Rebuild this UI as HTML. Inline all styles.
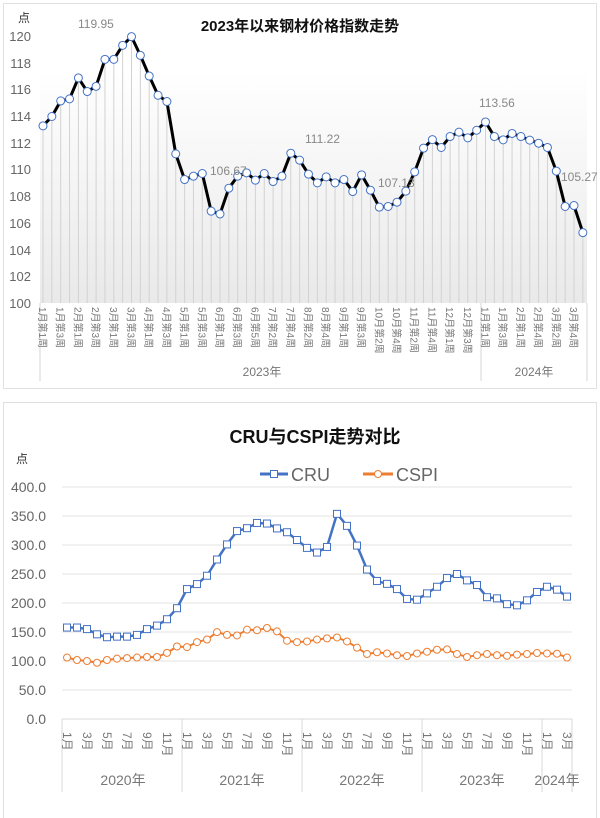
<!DOCTYPE html>
<html><head><meta charset="utf-8"><style>
html,body{margin:0;padding:0;background:#fff;}
svg{display:block;font-family:"Liberation Sans","Noto Sans CJK SC",sans-serif;}
</style></head><body>
<svg id="s" width="600" height="818" viewBox="0 0 600 818">
<defs>
<linearGradient id="g" x1="0" y1="0" x2="0" y2="1">
<stop offset="0" stop-color="#ffffff"/><stop offset="1" stop-color="#e9e9e9"/>
</linearGradient>
</defs>
<rect x="3.5" y="3.5" width="593" height="385" fill="#fff" stroke="#e0e0e0"/>
<rect x="40" y="70" width="547" height="233" fill="url(#g)"/>
<g id="top"></g>
<text x="18" y="22" font-size="12" fill="#333">点</text>
<text x="300" y="31" font-size="15" font-weight="bold" text-anchor="middle" fill="#111">2023年以来钢材价格指数走势</text>
<g font-size="13" fill="#666" text-anchor="end">
<text x="31" y="41">120</text><text x="31" y="68">118</text><text x="31" y="94">116</text><text x="31" y="121">114</text><text x="31" y="148">112</text><text x="31" y="174">110</text><text x="31" y="201">108</text><text x="31" y="228">106</text><text x="31" y="255">104</text><text x="31" y="281">102</text><text x="31" y="308">100</text>
</g>
<g font-size="12" fill="#888">
<text x="78" y="28">119.95</text><text x="210" y="175">106.67</text><text x="305" y="143">111.22</text><text x="378" y="187">107.13</text><text x="479" y="107">113.56</text><text x="561" y="181">105.27</text>
</g>
<g stroke="#d6d6d6" stroke-width="1">
<line x1="40" y1="303" x2="40" y2="381"/><line x1="481" y1="303" x2="481" y2="381"/><line x1="587" y1="303" x2="587" y2="381"/>
</g>
<g font-size="10" fill="#777">
<text transform="translate(39,307) rotate(90)">1月第1周</text>
<text transform="translate(56.7,307) rotate(90)">1月第3周</text>
<text transform="translate(74.4,307) rotate(90)">2月第1周</text>
<text transform="translate(92.1,307) rotate(90)">2月第3周</text>
<text transform="translate(109.8,307) rotate(90)">3月第1周</text>
<text transform="translate(127.5,307) rotate(90)">3月第3周</text>
<text transform="translate(145.2,307) rotate(90)">4月第1周</text>
<text transform="translate(162.9,307) rotate(90)">4月第3周</text>
<text transform="translate(180.6,307) rotate(90)">5月第1周</text>
<text transform="translate(198.3,307) rotate(90)">5月第3周</text>
<text transform="translate(216,307) rotate(90)">6月第1周</text>
<text transform="translate(233.7,307) rotate(90)">6月第3周</text>
<text transform="translate(251.4,307) rotate(90)">6月第5周</text>
<text transform="translate(269.1,307) rotate(90)">7月第2周</text>
<text transform="translate(286.8,307) rotate(90)">7月第4周</text>
<text transform="translate(304.5,307) rotate(90)">8月第2周</text>
<text transform="translate(322.2,307) rotate(90)">8月第4周</text>
<text transform="translate(339.9,307) rotate(90)">9月第1周</text>
<text transform="translate(357.6,307) rotate(90)">9月第3周</text>
<text transform="translate(375.3,307) rotate(90)">10月第2周</text>
<text transform="translate(393,307) rotate(90)">10月第4周</text>
<text transform="translate(410.7,307) rotate(90)">11月第2周</text>
<text transform="translate(428.4,307) rotate(90)">11月第4周</text>
<text transform="translate(446.1,307) rotate(90)">12月第1周</text>
<text transform="translate(463.8,307) rotate(90)">12月第3周</text>
<text transform="translate(481.5,307) rotate(90)">1月第1周</text>
<text transform="translate(499.2,307) rotate(90)">1月第3周</text>
<text transform="translate(516.9,307) rotate(90)">2月第1周</text>
<text transform="translate(534.6,307) rotate(90)">2月第4周</text>
<text transform="translate(552.3,307) rotate(90)">3月第2周</text>
<text transform="translate(570,307) rotate(90)">3月第4周</text>
</g>
<g font-size="12" fill="#777" text-anchor="middle">
<text x="262" y="376">2023年</text><text x="534" y="376">2024年</text>
</g>

<rect x="3.5" y="402.5" width="593" height="420" fill="#fff" stroke="#e0e0e0"/>
<text x="315" y="443" font-size="18" font-weight="bold" text-anchor="middle" fill="#111">CRU与CSPI走势对比</text>
<text x="16" y="463" font-size="12" fill="#333">点</text>
<g stroke="#e3e3e3" stroke-width="1">
<line x1="62" y1="487" x2="572" y2="487"/><line x1="62" y1="516" x2="572" y2="516"/><line x1="62" y1="545" x2="572" y2="545"/><line x1="62" y1="574" x2="572" y2="574"/><line x1="62" y1="603" x2="572" y2="603"/><line x1="62" y1="632" x2="572" y2="632"/><line x1="62" y1="661" x2="572" y2="661"/><line x1="62" y1="690" x2="572" y2="690"/>
</g>
<line x1="62" y1="719" x2="572" y2="719" stroke="#d9d9d9"/>
<g font-size="14" fill="#666" text-anchor="end">
<text x="46" y="492">400.0</text><text x="46" y="521">350.0</text><text x="46" y="550">300.0</text><text x="46" y="579">250.0</text><text x="46" y="608">200.0</text><text x="46" y="637">150.0</text><text x="46" y="666">100.0</text><text x="46" y="695">50.0</text><text x="46" y="724">0.0</text>
</g>
<g>
<line x1="260" y1="474" x2="288" y2="474" stroke="#4472c4" stroke-width="3"/>
<rect x="270.5" y="470.5" width="7" height="7" fill="#fff" stroke="#4472c4"/>
<text x="291" y="481" font-size="18" fill="#666">CRU</text>
<line x1="363" y1="474" x2="393" y2="474" stroke="#ed7d31" stroke-width="3"/>
<circle cx="378" cy="474" r="3.5" fill="#fff" stroke="#ed7d31"/>
<text x="396" y="481" font-size="18" fill="#666">CSPI</text>
</g>
<g stroke="#d9d9d9" stroke-width="1">
<line x1="62" y1="719" x2="62" y2="792"/><line x1="182" y1="719" x2="182" y2="792"/><line x1="302" y1="719" x2="302" y2="792"/><line x1="422" y1="719" x2="422" y2="792"/><line x1="542" y1="719" x2="542" y2="792"/><line x1="572" y1="719" x2="572" y2="792"/>
</g>
<g font-size="12" fill="#777">
<text transform="translate(63,732) rotate(90)">1月</text><text transform="translate(83,732) rotate(90)">3月</text><text transform="translate(103,732) rotate(90)">5月</text><text transform="translate(123,732) rotate(90)">7月</text><text transform="translate(143,732) rotate(90)">9月</text><text transform="translate(163,732) rotate(90)">11月</text>
<text transform="translate(183,732) rotate(90)">1月</text><text transform="translate(203,732) rotate(90)">3月</text><text transform="translate(223,732) rotate(90)">5月</text><text transform="translate(243,732) rotate(90)">7月</text><text transform="translate(263,732) rotate(90)">9月</text><text transform="translate(283,732) rotate(90)">11月</text>
<text transform="translate(303,732) rotate(90)">1月</text><text transform="translate(323,732) rotate(90)">3月</text><text transform="translate(343,732) rotate(90)">5月</text><text transform="translate(363,732) rotate(90)">7月</text><text transform="translate(383,732) rotate(90)">9月</text><text transform="translate(403,732) rotate(90)">11月</text>
<text transform="translate(423,732) rotate(90)">1月</text><text transform="translate(443,732) rotate(90)">3月</text><text transform="translate(463,732) rotate(90)">5月</text><text transform="translate(483,732) rotate(90)">7月</text><text transform="translate(503,732) rotate(90)">9月</text><text transform="translate(523,732) rotate(90)">11月</text>
<text transform="translate(543,732) rotate(90)">1月</text><text transform="translate(563,732) rotate(90)">3月</text>
</g>
<g font-size="14" fill="#777" text-anchor="middle">
<text x="123" y="785">2020年</text><text x="242" y="785">2021年</text><text x="362" y="785">2022年</text><text x="482" y="785">2023年</text><text x="557" y="785">2024年</text>
</g>
<g id="bot"></g>
</svg>
<script>
var NS="http://www.w3.org/2000/svg";
function el(p,t,a){var e=document.createElementNS(NS,t);for(var k in a)e.setAttribute(k,a[k]);p.appendChild(e);return e;}
var T=[113.27,113.97,115.14,115.29,116.86,115.84,116.23,118.25,118.25,119.3,119.95,118.55,117.0,115.56,115.09,111.17,109.25,109.5,109.7,106.88,106.67,108.6,109.5,109.75,109.2,109.7,109.1,109.5,111.22,110.7,109.65,109.0,109.45,109.0,109.25,108.35,109.6,108.45,107.18,107.23,107.55,108.38,109.82,111.6,112.24,111.65,112.47,112.8,112.37,112.94,113.56,112.47,112.22,112.7,112.47,112.2,111.97,111.65,109.88,107.23,107.3,105.27];
var g=document.getElementById("top"),pts=[];
T.forEach(function(v,i){var x=43+i*8.85,y=36+(120-v)*13.35;pts.push(x+","+y);el(g,"line",{x1:x,y1:y,x2:x,y2:303,stroke:"#d2d2d2","stroke-width":1});});
el(g,"polyline",{points:pts.join(" "),fill:"none",stroke:"#000","stroke-width":3,"stroke-linejoin":"round"});
T.forEach(function(v,i){el(g,"circle",{cx:43+i*8.85,cy:36+(120-v)*13.35,r:4,fill:"#fff",stroke:"#4472c4","stroke-width":1});});
var C=[157.7,157.7,155,146,141,142,142,145,155,161,172,191,224,232.6,247,275,301,324,329,338,337,328.6,322,308.6,295,287,296.6,353.7,333,299,257.7,238,233,224,207,205.7,216.6,228,243,250,239,231,210,208,198,196,204.6,219,228,223,211];
var P=[106,101.7,100,97,101.7,104,105,106,107,107,114,125,124,132.6,137,149.7,145,144,154,153,157,151,135,132.6,133.7,137,139,140.6,133.7,123,112,115,113,110,108.6,113,116,119.4,120,112,107,110,112,110,109,111,112,113.7,113,112.6,106];
var b=document.getElementById("bot");
function poly(D,c,w){var p=D.map(function(v,i){return (67+i*10)+","+(719-v*0.58);});el(b,"polyline",{points:p.join(" "),fill:"none",stroke:c,"stroke-width":w,"stroke-linejoin":"round"});}
poly(P,"#ed7d31",2);
P.forEach(function(v,i){el(b,"circle",{cx:67+i*10,cy:719-v*0.58,r:3.5,fill:"#fff",stroke:"#ed7d31","stroke-width":1});});
poly(C,"#4472c4",2.5);
C.forEach(function(v,i){el(b,"rect",{x:67+i*10-3.5,y:719-v*0.58-3.5,width:7,height:7,fill:"#fff",stroke:"#4472c4","stroke-width":1});});
</script>
</body></html>
